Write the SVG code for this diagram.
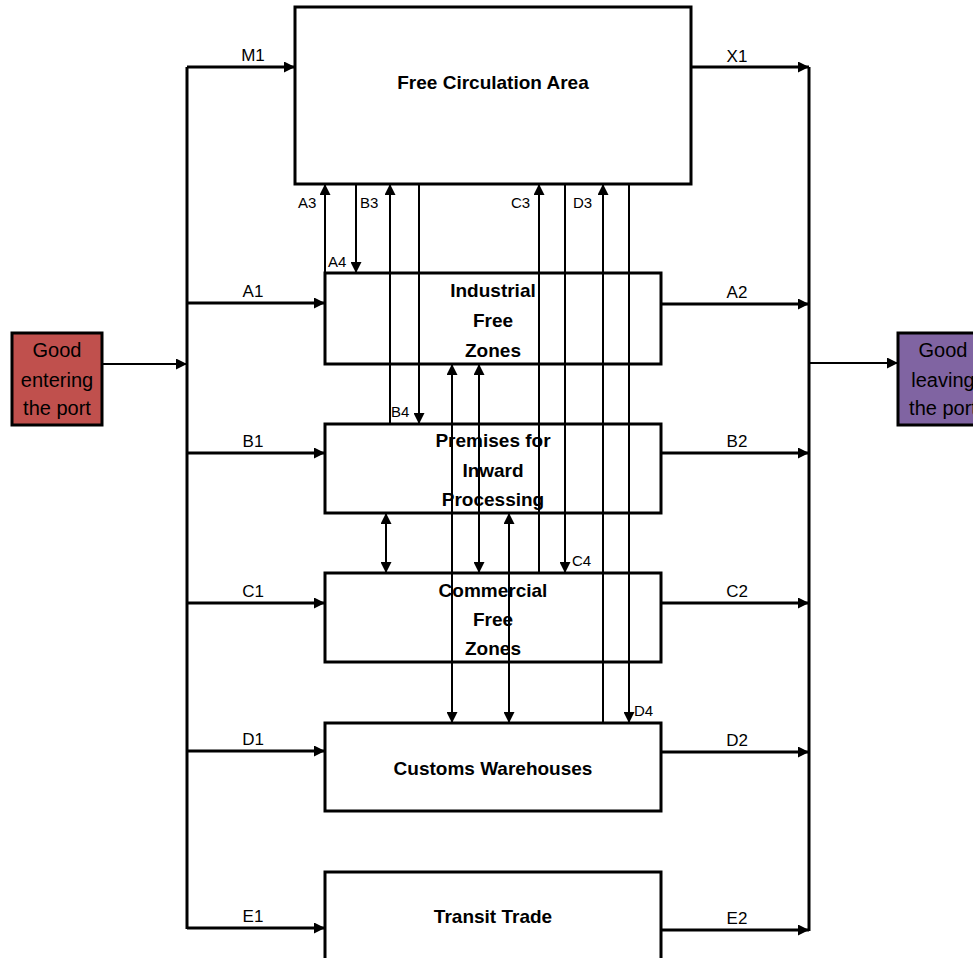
<svg xmlns="http://www.w3.org/2000/svg" width="973" height="958" viewBox="0 0 973 958">
<style>
.box{fill:#fff;stroke:#000;stroke-width:3}
.t{font-family:"Liberation Sans",Arial,sans-serif;font-weight:bold;font-size:19px;text-anchor:middle;fill:#000}
.lb{font-family:"Liberation Sans",Arial,sans-serif;font-size:17px;text-anchor:middle;fill:#000}
.sl{font-family:"Liberation Sans",Arial,sans-serif;font-size:15px;fill:#000}
.pt{font-family:"Liberation Sans",Arial,sans-serif;font-size:20px;text-anchor:middle;fill:#000}
.bus{stroke:#000;stroke-width:3;fill:none}
.h{stroke:#000;stroke-width:3;fill:none;marker-end:url(#ah)}
.v{stroke:#000;stroke-width:2;fill:none;marker-end:url(#ah)}
.d{stroke:#000;stroke-width:2;fill:none;marker-end:url(#ah);marker-start:url(#as)}
.ln{stroke:#000;stroke-width:2;fill:none;marker-end:url(#ah)}
</style>
<defs>
<marker id="ah" viewBox="0 0 10 10" refX="10" refY="5" markerWidth="13" markerHeight="11" markerUnits="userSpaceOnUse" orient="auto"><path d="M0,0 L10,5 L0,10 z" fill="#000"/></marker>
<marker id="as" viewBox="0 0 10 10" refX="10" refY="5" markerWidth="13" markerHeight="11" markerUnits="userSpaceOnUse" orient="auto-start-reverse"><path d="M0,0 L10,5 L0,10 z" fill="#000"/></marker>
</defs>
<rect width="973" height="958" fill="#fff"/>

<g id="free-circulation">
<rect class="box" x="295" y="7" width="396" height="177"/>
<text class="t" x="493" y="89">Free Circulation Area</text>
</g>
<g id="industrial">
<rect class="box" x="325" y="273" width="336" height="91"/>
<text class="t" x="493" y="297">Industrial</text>
<text class="t" x="493" y="327">Free</text>
<text class="t" x="493" y="357">Zones</text>
</g>
<g id="premises">
<rect class="box" x="325" y="424" width="336" height="89"/>
<text class="t" x="493" y="447">Premises for</text>
<text class="t" x="493" y="477">Inward</text>
<text class="t" x="493" y="506">Processing</text>
</g>
<g id="commercial">
<rect class="box" x="325" y="573" width="336" height="89"/>
<text class="t" x="493" y="597">Commercial</text>
<text class="t" x="493" y="626">Free</text>
<text class="t" x="493" y="655">Zones</text>
</g>
<g id="customs">
<rect class="box" x="325" y="723" width="336" height="88"/>
<text class="t" x="493" y="775">Customs Warehouses</text>
</g>
<g id="transit">
<rect class="box" x="325" y="872" width="336" height="100"/>
<text class="t" x="493" y="923">Transit Trade</text>
</g>
<g id="good-entering">
<rect x="12" y="333" width="90" height="92" fill="#c0504d" stroke="#000" stroke-width="3"/>
<text class="pt" x="57" y="357">Good</text>
<text class="pt" x="57" y="387">entering</text>
<text class="pt" x="57" y="415">the port</text>
</g>
<g id="good-leaving">
<rect x="898" y="333" width="92" height="92" fill="#8064a2" stroke="#000" stroke-width="3"/>
<text class="pt" x="943" y="357">Good</text>
<text class="pt" x="943" y="387">leaving</text>
<text class="pt" x="943" y="415">the port</text>
</g>

<g id="connectors">
<path class="bus" d="M187,67 V929"/>
<path class="bus" d="M809,67 V931"/>
<path class="h" d="M187,67 H295"/>
<path class="h" d="M187,303 H325"/>
<path class="h" d="M187,453 H325"/>
<path class="h" d="M187,603 H325"/>
<path class="h" d="M187,751 H325"/>
<path class="h" d="M187,928 H325"/>
<path class="h" d="M691,67 H809"/>
<path class="h" d="M661,304 H809"/>
<path class="h" d="M661,453 H809"/>
<path class="h" d="M661,603 H809"/>
<path class="h" d="M661,752 H809"/>
<path class="h" d="M661,930 H809"/>
<path class="ln" d="M102,364 H187"/>
<path class="ln" d="M809,363 H898"/>
<path class="v" d="M325,273 V184"/>
<path class="v" d="M356,184 V273"/>
<path class="v" d="M390,424 V184"/>
<path class="v" d="M419,184 V424"/>
<path class="v" d="M539,573 V184"/>
<path class="v" d="M565,184 V573"/>
<path class="v" d="M603,723 V184"/>
<path class="v" d="M629,184 V723"/>
<path class="d" d="M452,364 V723"/>
<path class="d" d="M479,364 V573"/>
<path class="d" d="M386,513 V573"/>
<path class="d" d="M509,513 V723"/>
<text class="lb" x="253" y="61">M1</text>
<text class="lb" x="253" y="297">A1</text>
<text class="lb" x="253" y="447">B1</text>
<text class="lb" x="253" y="597">C1</text>
<text class="lb" x="253" y="745">D1</text>
<text class="lb" x="253" y="922">E1</text>
<text class="lb" x="737" y="62">X1</text>
<text class="lb" x="737" y="298">A2</text>
<text class="lb" x="737" y="447">B2</text>
<text class="lb" x="737" y="597">C2</text>
<text class="lb" x="737" y="746">D2</text>
<text class="lb" x="737" y="924">E2</text>
<text class="sl" x="298" y="208">A3</text>
<text class="sl" x="360" y="208">B3</text>
<text class="sl" x="328" y="267">A4</text>
<text class="sl" x="391" y="417">B4</text>
<text class="sl" x="511" y="208">C3</text>
<text class="sl" x="573" y="208">D3</text>
<text class="sl" x="572" y="566">C4</text>
<text class="sl" x="634" y="716">D4</text>
</g>
</svg>
